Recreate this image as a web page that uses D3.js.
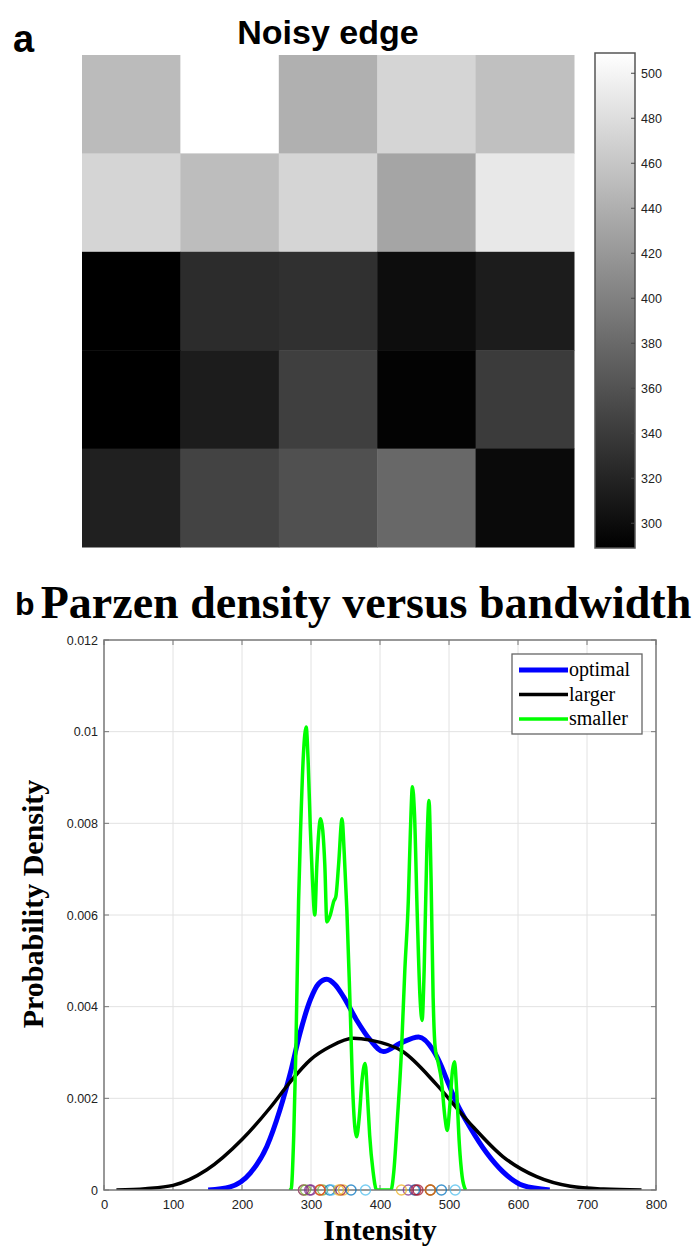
<!doctype html>
<html>
<head>
<meta charset="UTF-8">
<title>Noisy edge / Parzen density</title>
<script src="https://cdn.jsdelivr.net/npm/d3@7"></script>
<style>
  body { margin: 0; background: #fff; }
  .sans { font-family: "Liberation Sans", Arial, Helvetica, sans-serif; }
  .serif { font-family: "Liberation Serif", "Times New Roman", serif; }
</style>
</head>
<body>
<svg id="fig" width="698" height="1248"></svg>
<script>
// ---- panel a : 5x5 pixel intensities (rows top -> bottom)
var pixelRows = [
    [450, 509, 441, 473, 455],
    [473, 452, 473, 431, 489],
    [289, 327, 330, 300, 313],
    [289, 313, 343, 292, 340],
    [317, 347, 358, 379, 298]
];
var colorbarTicks = [300, 320, 340, 360, 380, 400, 420, 440, 460, 480, 500];

// ---- panel b : density curves
var optimalX = [151, 183, 212, 236, 255, 270, 284, 299, 311, 323, 335, 347, 366, 386, 405, 429, 456, 477, 489, 497, 511, 530, 555, 578, 607, 646];
var optimalY = [0, 0.00007, 0.00037, 0.00095, 0.00175, 0.00255, 0.00342, 0.00415, 0.0045, 0.0046, 0.00448, 0.00422, 0.00371, 0.00327, 0.00302, 0.0032, 0.00334, 0.00305, 0.0027, 0.0024, 0.0019, 0.00138, 0.0008, 0.0004, 0.0001, 0];

var largerX = [18, 60, 100, 149, 200, 241, 270, 299, 328, 361, 386, 433, 482, 530, 578, 627, 676, 724, 779];
var largerY = [0, 0.00003, 0.0001, 0.00044, 0.0011, 0.0018, 0.00236, 0.00284, 0.00313, 0.00331, 0.00327, 0.00302, 0.0023, 0.00146, 0.00073, 0.00029, 0.00008, 0.00002, 0];

var smallerX = [268, 271, 275, 278, 282, 285, 289, 293, 296, 299, 302, 305.5, 308.5, 314, 320, 323, 328, 333, 336, 340, 345, 348, 352, 356.5, 361, 366, 370, 374, 378.5, 382, 385, 390, 395, 416, 420, 425, 431, 436, 441, 444, 447, 450, 454, 458, 461, 464, 468, 471, 474, 477, 480, 484, 489, 494, 497.5, 501, 505, 508, 511, 515, 519, 524];
var smallerY = [0, 0, 0.0012, 0.003, 0.0063, 0.0079, 0.0095, 0.0101, 0.0093, 0.0079, 0.0068, 0.006, 0.0071, 0.0081, 0.0071, 0.00585, 0.006, 0.0063, 0.0064, 0.0071, 0.0081, 0.0074, 0.0061, 0.0041, 0.002, 0.00116, 0.0016, 0.0024, 0.00276, 0.002, 0.0012, 0.0004, 0, 0, 0.0004, 0.0015, 0.003, 0.0048, 0.0063, 0.0078, 0.0088, 0.0082, 0.006, 0.0042, 0.0037, 0.0048, 0.0075, 0.0085, 0.0068, 0.0042, 0.0031, 0.0028, 0.0024, 0.0016, 0.0013, 0.0018, 0.0026, 0.0028, 0.0022, 0.001, 0.0003, 0];

var seriesNames = ["optimal", "larger", "smaller"];
var seriesColors = ["#0000ff", "#000000", "#00ff00"];
var seriesWidths = [5, 3.5, 3.5];

var xTicks = [0, 100, 200, 300, 400, 500, 600, 700, 800];
var yTicks = [0, 0.002, 0.004, 0.006, 0.008, 0.01, 0.012];
var yTickLabels = ["0", "0.002", "0.004", "0.006", "0.008", "0.01", "0.012"];

// matlab default colour order, used for the sample markers
var markerColors = ["#0072BD", "#D95319", "#EDB120", "#7E2F8E", "#77AC30", "#4DBEEE", "#A2142F"];

var svg = d3.select("#fig");

// =================== panel a ===================
svg.append("text").attr("class", "sans").attr("x", 13).attr("y", 52)
    .attr("font-size", 38).attr("font-weight", "bold").text("a");
svg.append("text").attr("class", "sans").attr("x", 328).attr("y", 44)
    .attr("text-anchor", "middle").attr("font-size", 34).attr("font-weight", "bold")
    .text("Noisy edge");

var vmin = d3.min(pixelRows, function (r) { return d3.min(r); });
var vmax = d3.max(pixelRows, function (r) { return d3.max(r); });
var gray = d3.scaleLinear().domain([vmin, vmax]).range(["#000000", "#ffffff"]);

var cx = d3.scaleBand().domain(d3.range(5)).range([82, 574]);
var cy = d3.scaleBand().domain(d3.range(5)).range([55, 547]);

var cells = [];
pixelRows.forEach(function (row, i) {
    row.forEach(function (v, j) { cells.push({ r: i, c: j, v: v }); });
});

svg.append("g").selectAll("rect").data(cells).enter().append("rect")
    .attr("x", function (d) { return cx(d.c); })
    .attr("y", function (d) { return cy(d.r); })
    .attr("width", cx.bandwidth() + 0.5)
    .attr("height", cy.bandwidth() + 0.5)
    .attr("fill", function (d) { return gray(d.v); });

// colorbar
var cbY = d3.scaleLinear().domain([vmin, vmax]).range([548, 53]);
var defs = svg.append("defs");
var grad = defs.append("linearGradient").attr("id", "cbgrad")
    .attr("x1", 0).attr("y1", 1).attr("x2", 0).attr("y2", 0);
grad.append("stop").attr("offset", "0%").attr("stop-color", "#000");
grad.append("stop").attr("offset", "100%").attr("stop-color", "#fff");

svg.append("rect").attr("x", 595).attr("y", 53).attr("width", 40).attr("height", 495)
    .attr("fill", "url(#cbgrad)").attr("stroke", "#555").attr("stroke-width", 1.5);

var cbAxis = svg.append("g").attr("transform", "translate(635,0)")
    .call(d3.axisRight(cbY).tickValues(colorbarTicks).tickSize(0).tickPadding(6));
cbAxis.select(".domain").remove();
cbAxis.selectAll("text").attr("class", "sans").attr("font-size", 12.5).attr("fill", "#222");
svg.append("g").selectAll("line").data(colorbarTicks).enter().append("line")
    .attr("x1", 631).attr("x2", 635)
    .attr("y1", function (d) { return cbY(d); }).attr("y2", function (d) { return cbY(d); })
    .attr("stroke", "#444").attr("stroke-width", 1);

// =================== panel b ===================
svg.append("text").attr("class", "sans").attr("x", 15).attr("y", 615)
    .attr("font-size", 32).attr("font-weight", "bold").text("b");
svg.append("text").attr("class", "serif").attr("x", 366).attr("y", 618)
    .attr("text-anchor", "middle").attr("font-size", 46).attr("font-weight", "bold")
    .text("Parzen density versus bandwidth");

var pLeft = 104, pRight = 656, pTop = 640, pBottom = 1190;
var x = d3.scaleLinear().domain([0, 800]).range([pLeft, pRight]);
var y = d3.scaleLinear().domain([0, 0.012]).range([pBottom, pTop]);

// grid
var grid = svg.append("g");
grid.selectAll("line.gx").data(xTicks.slice(1, -1)).enter().append("line")
    .attr("x1", function (d) { return x(d); }).attr("x2", function (d) { return x(d); })
    .attr("y1", pTop).attr("y2", pBottom).attr("stroke", "#e2e2e2").attr("stroke-width", 1);
grid.selectAll("line.gy").data(yTicks.slice(1, -1)).enter().append("line")
    .attr("y1", function (d) { return y(d); }).attr("y2", function (d) { return y(d); })
    .attr("x1", pLeft).attr("x2", pRight).attr("stroke", "#e2e2e2").attr("stroke-width", 1);

// inward ticks on all four sides
var ticks = svg.append("g").attr("stroke", "#777").attr("stroke-width", 1);
xTicks.forEach(function (t) {
    ticks.append("line").attr("x1", x(t)).attr("x2", x(t)).attr("y1", pBottom).attr("y2", pBottom - 5);
    ticks.append("line").attr("x1", x(t)).attr("x2", x(t)).attr("y1", pTop).attr("y2", pTop + 5);
});
yTicks.forEach(function (t) {
    ticks.append("line").attr("y1", y(t)).attr("y2", y(t)).attr("x1", pLeft).attr("x2", pLeft + 5);
    ticks.append("line").attr("y1", y(t)).attr("y2", y(t)).attr("x1", pRight).attr("x2", pRight - 5);
});

// tick labels via axes
var xAxis = svg.append("g").attr("transform", "translate(0," + pBottom + ")")
    .call(d3.axisBottom(x).tickValues(xTicks).tickSize(0).tickPadding(10));
xAxis.select(".domain").remove();
xAxis.selectAll("text").attr("class", "sans").attr("font-size", 13).attr("fill", "#222");

var yAxis = svg.append("g").attr("transform", "translate(" + pLeft + ",0)")
    .call(d3.axisLeft(y).tickValues(yTicks).tickSize(0).tickPadding(6)
        .tickFormat(function (d, i) { return yTickLabels[i]; }));
yAxis.select(".domain").remove();
yAxis.selectAll("text").attr("class", "sans").attr("font-size", 12.5).attr("fill", "#222");

// curves
var line = d3.line()
    .x(function (d) { return x(d[0]); })
    .y(function (d) { return y(d[1]); })
    .curve(d3.curveMonotoneX);

var seriesData = [
    d3.zip(optimalX, optimalY),
    d3.zip(largerX, largerY),
    d3.zip(smallerX, smallerY)
];

svg.append("defs").append("clipPath").attr("id", "plotclip")
    .append("rect").attr("x", pLeft).attr("y", pTop).attr("width", pRight - pLeft).attr("height", pBottom - pTop);

var curves = svg.append("g").attr("clip-path", "url(#plotclip)");
seriesData.forEach(function (pts, i) {
    curves.append("path").datum(pts)
        .attr("d", line)
        .attr("fill", "none")
        .attr("stroke", seriesColors[i])
        .attr("stroke-width", seriesWidths[i])
        .attr("stroke-linejoin", "round");
});

// axes box
svg.append("rect").attr("x", pLeft).attr("y", pTop).attr("width", pRight - pLeft).attr("height", pBottom - pTop)
    .attr("fill", "none").attr("stroke", "#777").attr("stroke-width", 1.5);

// sample markers on the x axis (the 25 pixel values)
var samples = [];
for (var j = 0; j < 5; j++) {
    for (var i = 0; i < 5; i++) samples.push(pixelRows[i][j]);
}
svg.append("g").selectAll("circle").data(samples).enter().append("circle")
    .attr("cx", function (d) { return x(d); })
    .attr("cy", y(0))
    .attr("r", 5)
    .attr("fill", "none")
    .attr("stroke", function (d, i) { return markerColors[i % markerColors.length]; })
    .attr("stroke-opacity", 0.75)
    .attr("stroke-width", 1.4);

// axis titles
svg.append("text").attr("class", "serif").attr("x", (pLeft + pRight) / 2).attr("y", 1240)
    .attr("text-anchor", "middle").attr("font-size", 30).attr("font-weight", "bold").text("Intensity");
svg.append("text").attr("class", "serif")
    .attr("transform", "translate(43,904) rotate(-90)")
    .attr("text-anchor", "middle").attr("font-size", 30).attr("font-weight", "bold")
    .text("Probability Density");

// legend
var lg = svg.append("g").attr("transform", "translate(512,654)");
lg.append("rect").attr("width", 130).attr("height", 80)
    .attr("fill", "#fff").attr("stroke", "#666").attr("stroke-width", 1.3);
seriesNames.forEach(function (name, i) {
    var yy = 16 + i * 24.5;
    lg.append("line").attr("x1", 7).attr("x2", 56).attr("y1", yy).attr("y2", yy)
        .attr("stroke", seriesColors[i]).attr("stroke-width", seriesWidths[i]);
    lg.append("text").attr("class", "serif").attr("x", 57).attr("y", yy + 6)
        .attr("font-size", 20).attr("fill", "#000").text(name);
});
</script>
</body>
</html>
